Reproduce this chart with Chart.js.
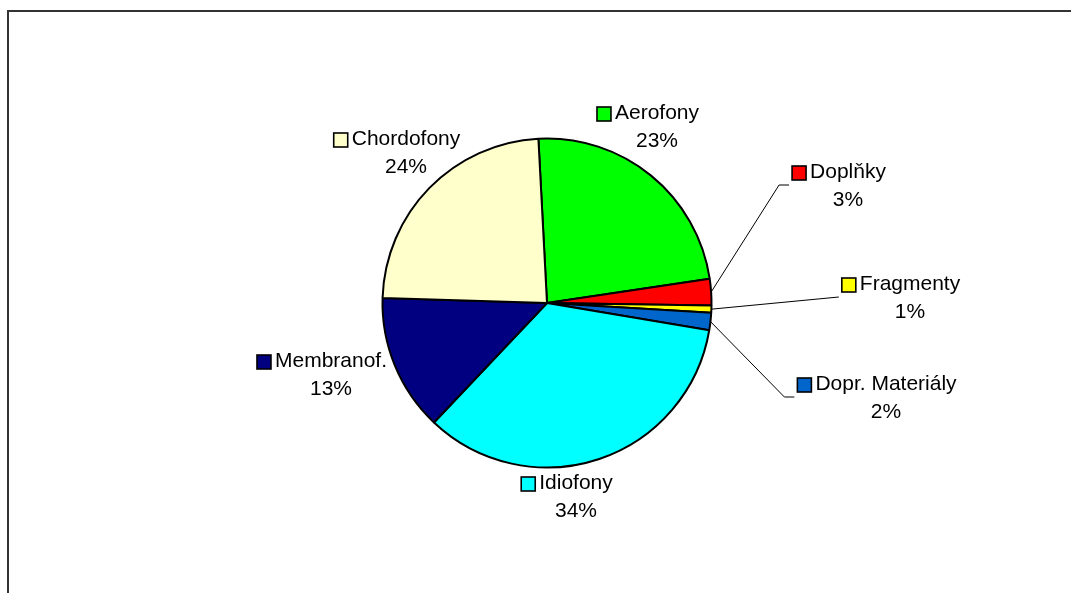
<!DOCTYPE html>
<html>
<head>
<meta charset="utf-8">
<title>Nástroje podle skupin</title>
<script src="https://cdn.jsdelivr.net/npm/chart.js@4/dist/chart.umd.min.js"></script>
<style>
  html, body { margin: 0; padding: 0; background: #fff; }
  #wrap { position: relative; width: 1071px; height: 593px; overflow: hidden; }
  #frame {
    position: absolute; left: 7px; top: 10px; right: -10px; bottom: -10px;
    border-left: 2px solid #333; border-top: 2px solid #333;
  }
  #chart { position: absolute; left: 0; top: 0; }
</style>
</head>
<body>
<div id="wrap">
  <div id="frame"></div>
  <canvas id="chart" width="1071" height="593"></canvas>
</div>
<script>
// data (share of items, %)
const categories = ['Aerofony', 'Doplňky', 'Fragmenty', 'Dopr. Materiály', 'Idiofony', 'Membranof.', 'Chordofony'];
const shares = [23.4, 2.6, 0.7, 1.7, 34.3, 13.4, 23.6];

// styles
const sliceColors = ['#00ff00', '#ff0000', '#ffff00', '#0066cc', '#00ffff', '#000080', '#ffffcc'];
// label centre (name line) relative to the pie centre
const labelOffsets = [[110, -190], [301, -131], [363, -19], [339, 81], [29, 180], [-216, 58], [-141, -164]];

// draws Excel-like data labels: key square + name, percentage underneath,
// leader line for the thin slices
const pieLabels = {
  id: 'pieLabels',
  afterDatasetsDraw(chart, args, opts) {
    const ctx = chart.ctx;
    const meta = chart.getDatasetMeta(0);
    const values = chart.data.datasets[0].data;
    const total = values.reduce((a, b) => a + b, 0);
    ctx.save();
    ctx.font = opts.font;
    ctx.textBaseline = 'middle';
    ctx.textAlign = 'center';
    meta.data.forEach((arc, i) => {
      const off = opts.offsets[i];
      const cx = arc.x + off[0];
      const cy = arc.y + off[1];
      const name = chart.data.labels[i];
      const pctVal = values[i] / total * 100;
      const pct = Math.round(pctVal) + '%';
      const w = ctx.measureText(name).width;
      const box = opts.boxSize;
      const boxLeft = cx - w / 2 - opts.boxGap - box;

      // leader line for small slices
      if (pctVal < 5) {
        const mid = (arc.startAngle + arc.endAngle) / 2;
        const sx = arc.x + Math.cos(mid) * arc.outerRadius;
        const sy = arc.y + Math.sin(mid) * arc.outerRadius;
        const ex = boxLeft - 3;
        const ey = cy + 13;
        ctx.beginPath();
        ctx.strokeStyle = '#000';
        ctx.lineWidth = 1;
        ctx.moveTo(sx, sy);
        if (Math.abs(ey - sy) > Math.abs(ex - sx) * 0.3) {
          ctx.lineTo(ex - 10, ey);
        }
        ctx.lineTo(ex, ey);
        ctx.stroke();
      }

      // legend key
      ctx.fillStyle = sliceColors[i];
      ctx.fillRect(boxLeft, cy - box / 2 + 1, box, box);
      ctx.strokeStyle = '#000';
      ctx.lineWidth = 1.6;
      ctx.strokeRect(boxLeft, cy - box / 2 + 1, box, box);

      ctx.fillStyle = '#000';
      ctx.fillText(name, cx, cy);
      ctx.fillText(pct, cx, cy + opts.lineGap);
    });
    ctx.restore();
  }
};

new Chart(document.getElementById('chart'), {
  type: 'pie',
  data: {
    labels: categories,
    datasets: [{
      data: shares,
      backgroundColor: sliceColors,
      borderColor: '#000',
      borderWidth: 2
    }]
  },
  options: {
    responsive: false,
    animation: false,
    rotation: -3,
    radius: 164.5,
    layout: { padding: { left: 382, right: 359, top: 138, bottom: 125 } },
    plugins: {
      legend: { display: false },
      tooltip: { enabled: false },
      pieLabels: {
        font: '21px "Liberation Sans", Arial, sans-serif',
        offsets: labelOffsets,
        boxSize: 14,
        boxGap: 4,
        lineGap: 28
      }
    }
  },
  plugins: [pieLabels]
});
</script>
</body>
</html>
